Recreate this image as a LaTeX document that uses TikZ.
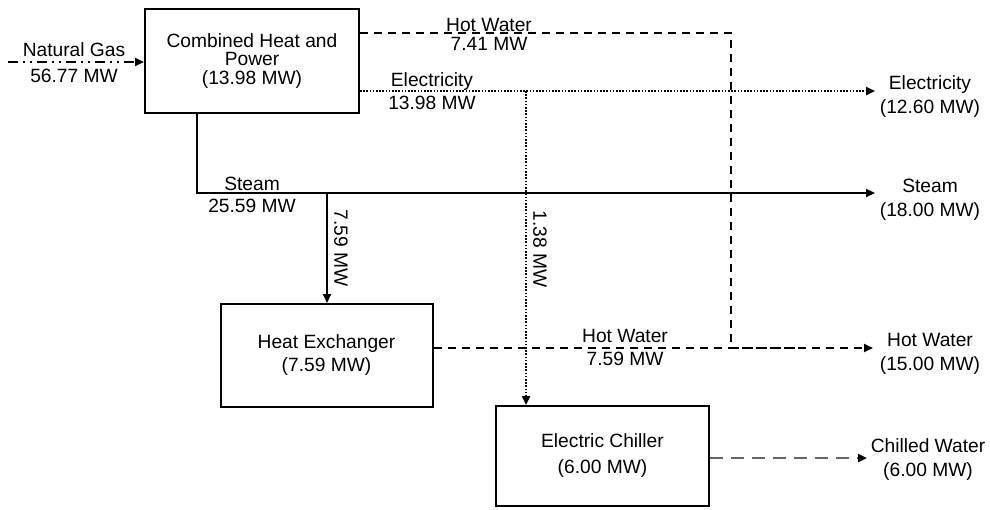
\documentclass[tikz,border=0pt]{standalone}
\usepackage{fontspec}
\setmainfont{Liberation Sans}
\usetikzlibrary{arrows.meta, positioning, calc}

\newcommand{\flowfont}[1]{\fontsize{9.6}{#1}\selectfont}

\begin{document}
\begin{tikzpicture}[x=0.5pt, y=-0.5pt,
    font=\flowfont{11.5pt},
    unit/.style={draw, line width=1pt, minimum width=106.5pt,
                 minimum height=51.5pt, align=center, inner sep=0pt},
    flowlbl/.style={align=center, inner sep=0pt},
    tip/.style={-{Triangle[length=4.5pt,width=4pt,color=black]}},
    gasline/.style={line width=1pt,
                    dash pattern=on 5pt off 2.5pt on 1pt off 2.5pt on 1pt off 2.5pt},
    hotline/.style={line width=0.9pt, dash pattern=on 4pt off 3pt},
    elecline/.style={line width=1.2pt, dash pattern=on 0.8pt off 0.8pt},
    steamline/.style={line width=0.9pt},
    coldline/.style={line width=1.2pt, black!60, dash pattern=on 6.5pt off 4pt}]
  \useasboundingbox (0,0) rectangle (990,509);

  % units
  \node[unit, minimum width=107pt, minimum height=52pt, font=\flowfont{9.25pt}]
       (chp) at (252,61) {Combined Heat and\\Power\\(13.98 MW)};
  \node[unit, minimum width=106pt, font=\flowfont{11.5pt}]
       (hx) at (326.5,355.5) {Heat Exchanger\\(7.59 MW)};
  \node[unit, minimum height=50pt, font=\flowfont{13pt}]
       (chiller) at (602.5,456) {Electric Chiller\\(6.00 MW)};

  % flow labels
  \node[flowlbl, font=\flowfont{13pt}] (gasLbl) at (74,63) {Natural Gas\\56.77 MW};
  \node[flowlbl, font=\flowfont{9.5pt}] (hotLbl) at (489,34) {Hot Water\\7.41 MW};
  \node[flowlbl] (elecLbl) at (432,91) {Electricity\\13.98 MW};
  \node[flowlbl, font=\flowfont{11pt}] (steamLbl) at (252,195) {Steam\\25.59 MW};
  \node[flowlbl] (hxHotLbl) at (625,347) {Hot Water\\7.59 MW};
  \node[flowlbl, rotate=-90] (hxSteamLbl) at (341,248) {7.59 MW};
  \node[flowlbl, rotate=-90] (chElecLbl) at (540,249) {1.38 MW};

  % outputs
  \node[flowlbl, font=\flowfont{12pt}] (elecOut) at (930,97) {Electricity\\(12.60 MW)};
  \node[flowlbl, font=\flowfont{12pt}] (steamOut) at (930,200) {Steam\\(18.00 MW)};
  \node[flowlbl, font=\flowfont{12pt}] (hotOut) at (930,354) {Hot Water\\(15.00 MW)};
  \node[flowlbl, font=\flowfont{12pt}] (coldOut) at (928,460) {Chilled Water\\(6.00 MW)};

  \coordinate (gasStart) at (8,62);
  \coordinate (hotCorner) at (731,33);
  \coordinate (hotJoin) at (731,348);
  \coordinate (hotMerge) at (803,348);
  \coordinate (hotEnd) at (873,348);
  \coordinate (elecSplit) at (526,91);
  \coordinate (elecEnd) at (875,91);
  \coordinate (steamOff) at (197,0);
  \coordinate (steamSplit) at (327,193);
  \coordinate (steamEnd) at (875,193);
  \coordinate (coldEnd) at (867,458);

  % flows
  \draw[gasline, tip] (gasStart) -- (gasStart -| chp.west);
  \draw[hotline] (chp.east |- hotCorner) -- (hotCorner) -- (hotJoin) -- (hotMerge);
  \draw[elecline, tip] (chp.east |- elecEnd) -- (elecEnd);
  \draw[elecline, tip] (elecSplit) -- (elecSplit |- chiller.north);
  \draw[steamline, tip] (chp.south -| steamOff) |- (steamEnd);
  \draw[steamline, tip] (steamSplit) -- (steamSplit |- hx.north);
  \draw[hotline, tip] (hx.east |- hotEnd) -- (hotEnd);
  \draw[coldline, tip] (chiller.east |- coldEnd) -- (coldEnd);
\end{tikzpicture}
\end{document}
